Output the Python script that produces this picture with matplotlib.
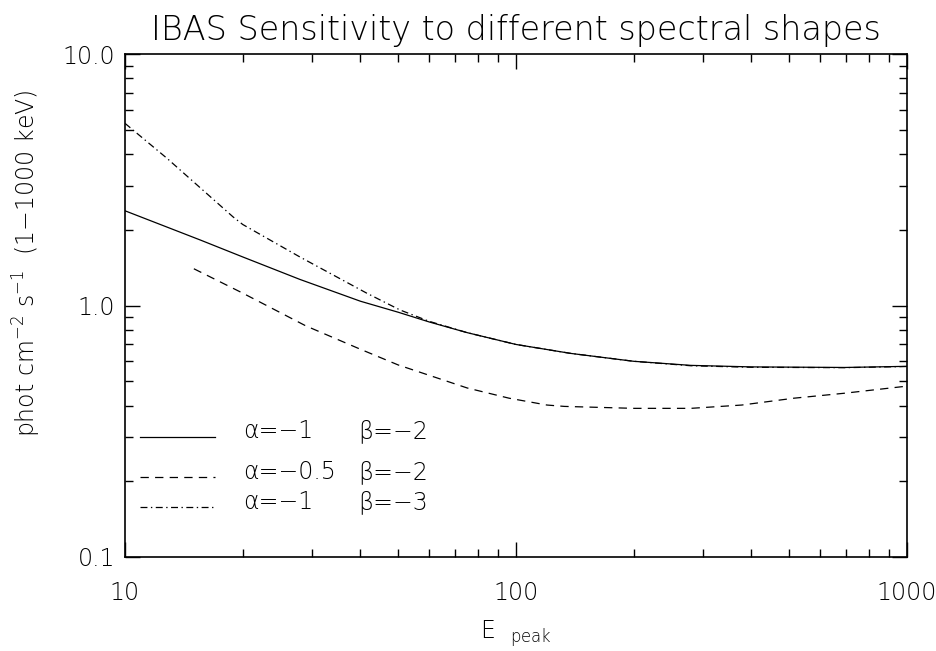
import matplotlib
matplotlib.use("Agg")
import matplotlib.pyplot as plt
from matplotlib.ticker import FixedLocator, NullFormatter, FixedFormatter

plt.rcParams['font.family'] = ['DejaVu Sans']
plt.rcParams['font.weight'] = 'light'
plt.rcParams['axes.labelweight'] = 'light'
plt.rcParams['axes.titleweight'] = 'light'
plt.rcParams['mathtext.fontset'] = 'custom'
plt.rcParams['mathtext.rm'] = 'DejaVu Sans:light'
plt.rcParams['mathtext.it'] = 'DejaVu Sans:light'
plt.rcParams['mathtext.default'] = 'regular'
plt.rcParams['lines.scale_dashes'] = False

# ---- data ----
epeak_solid = [10, 15.6, 20, 28, 40, 50, 60, 75, 100, 138, 200, 280, 400, 693, 1000]
sens_solid = [2.38, 1.82, 1.56, 1.27, 1.04, 0.94, 0.86, 0.78, 0.70, 0.645, 0.60, 0.578, 0.57, 0.567, 0.573]

epeak_dashed = [15, 20, 29, 40, 50, 75, 96, 120, 133, 200, 280, 378, 514, 693, 942, 1000]
sens_dashed = [1.40, 1.12, 0.83, 0.67, 0.58, 0.47, 0.428, 0.402, 0.397, 0.39, 0.39, 0.402, 0.428, 0.448, 0.473, 0.478]

epeak_dashdot = [10, 12.8, 18.9, 20, 28, 41.5, 50.5, 60, 75, 100, 138, 200, 280, 400, 693, 1000]
sens_dashdot = [5.3, 3.85, 2.25, 2.1, 1.56, 1.12, 0.96, 0.865, 0.78, 0.70, 0.645, 0.60, 0.576, 0.568, 0.566, 0.572]

legend_alpha = ['α=−1', 'α=−0.5', 'α=−1']
legend_beta = ['β=−2', 'β=−2', 'β=−3']

x_ticks = [10, 100, 1000]
x_ticklabels = ['10', '100', '1000']
y_ticks = [0.1, 1.0, 10.0]
y_ticklabels = ['0.1', '1.0', '10.0']

W, H = 937, 651
fig = plt.figure(figsize=(W / 100, H / 100), dpi=100)
L, R, T, B = 125, 907, 54, 557
ax = fig.add_axes([L / W, 1 - B / H, (R - L) / W, (B - T) / H])

lw = 0.9
styles = ['-', (0, (6, 4.5)), (0, (5, 2.5, 1, 2.5))]
ax.plot(epeak_solid, sens_solid, color='black', lw=lw, linestyle=styles[0])
ax.plot(epeak_dashed, sens_dashed, color='black', lw=lw, linestyle=styles[1])
ax.plot(epeak_dashdot, sens_dashdot, color='black', lw=lw, linestyle=styles[2])

ax.set_xscale('log')
ax.set_yscale('log')
ax.set_xlim(10, 1000)
ax.set_ylim(0.1, 10)

ax.xaxis.set_major_locator(FixedLocator(x_ticks))
ax.xaxis.set_major_formatter(FixedFormatter(x_ticklabels))
ax.yaxis.set_major_locator(FixedLocator(y_ticks))
ax.yaxis.set_major_formatter(FixedFormatter(y_ticklabels))
ax.xaxis.set_minor_locator(FixedLocator([m * d for d in (10, 100) for m in range(2, 10)]))
ax.yaxis.set_minor_locator(FixedLocator([m * d for d in (0.1, 1) for m in range(2, 10)]))
ax.xaxis.set_minor_formatter(NullFormatter())
ax.yaxis.set_minor_formatter(NullFormatter())

ax.tick_params(which='both', direction='in', top=True, right=True, width=1.0, color='black')
ax.tick_params(which='major', length=11)
ax.tick_params(which='minor', length=5.5)
ax.tick_params(axis='x', which='major', pad=17, labelsize=17)
ax.tick_params(axis='y', which='major', pad=7, labelsize=17)
for s in ax.spines.values():
    s.set_linewidth(1.2)

ax.set_title('IBAS Sensitivity to different spectral shapes', fontsize=24, pad=10,
             fontweight='light')
ax.set_xlabel(r'E  $_{peak}$', fontsize=17, fontweight='light')
ax.xaxis.set_label_coords(0.5, -0.122)
ax.set_ylabel(r'phot cm$^{-2}$ s$^{-1}$  (1$-$1000 keV)', fontsize=17, fontweight='light')
ax.yaxis.set_label_coords(-0.105, 0.583)

# legend drawn in axes coordinates
line_y = [0.2386, 0.159, 0.0994]
text_y = [0.251, 0.1696, 0.110]
for i in range(3):
    ax.plot([0.0192, 0.115], [line_y[i], line_y[i]], transform=ax.transAxes,
            color='black', lw=lw, linestyle=styles[i], clip_on=False)
    ax.text(0.151, text_y[i], legend_alpha[i], transform=ax.transAxes,
            fontsize=17, va='center', ha='left', fontweight='light')
    ax.text(0.298, text_y[i], legend_beta[i], transform=ax.transAxes,
            fontsize=17, va='center', ha='left', fontweight='light')

fig.savefig('out.png', dpi=100)
